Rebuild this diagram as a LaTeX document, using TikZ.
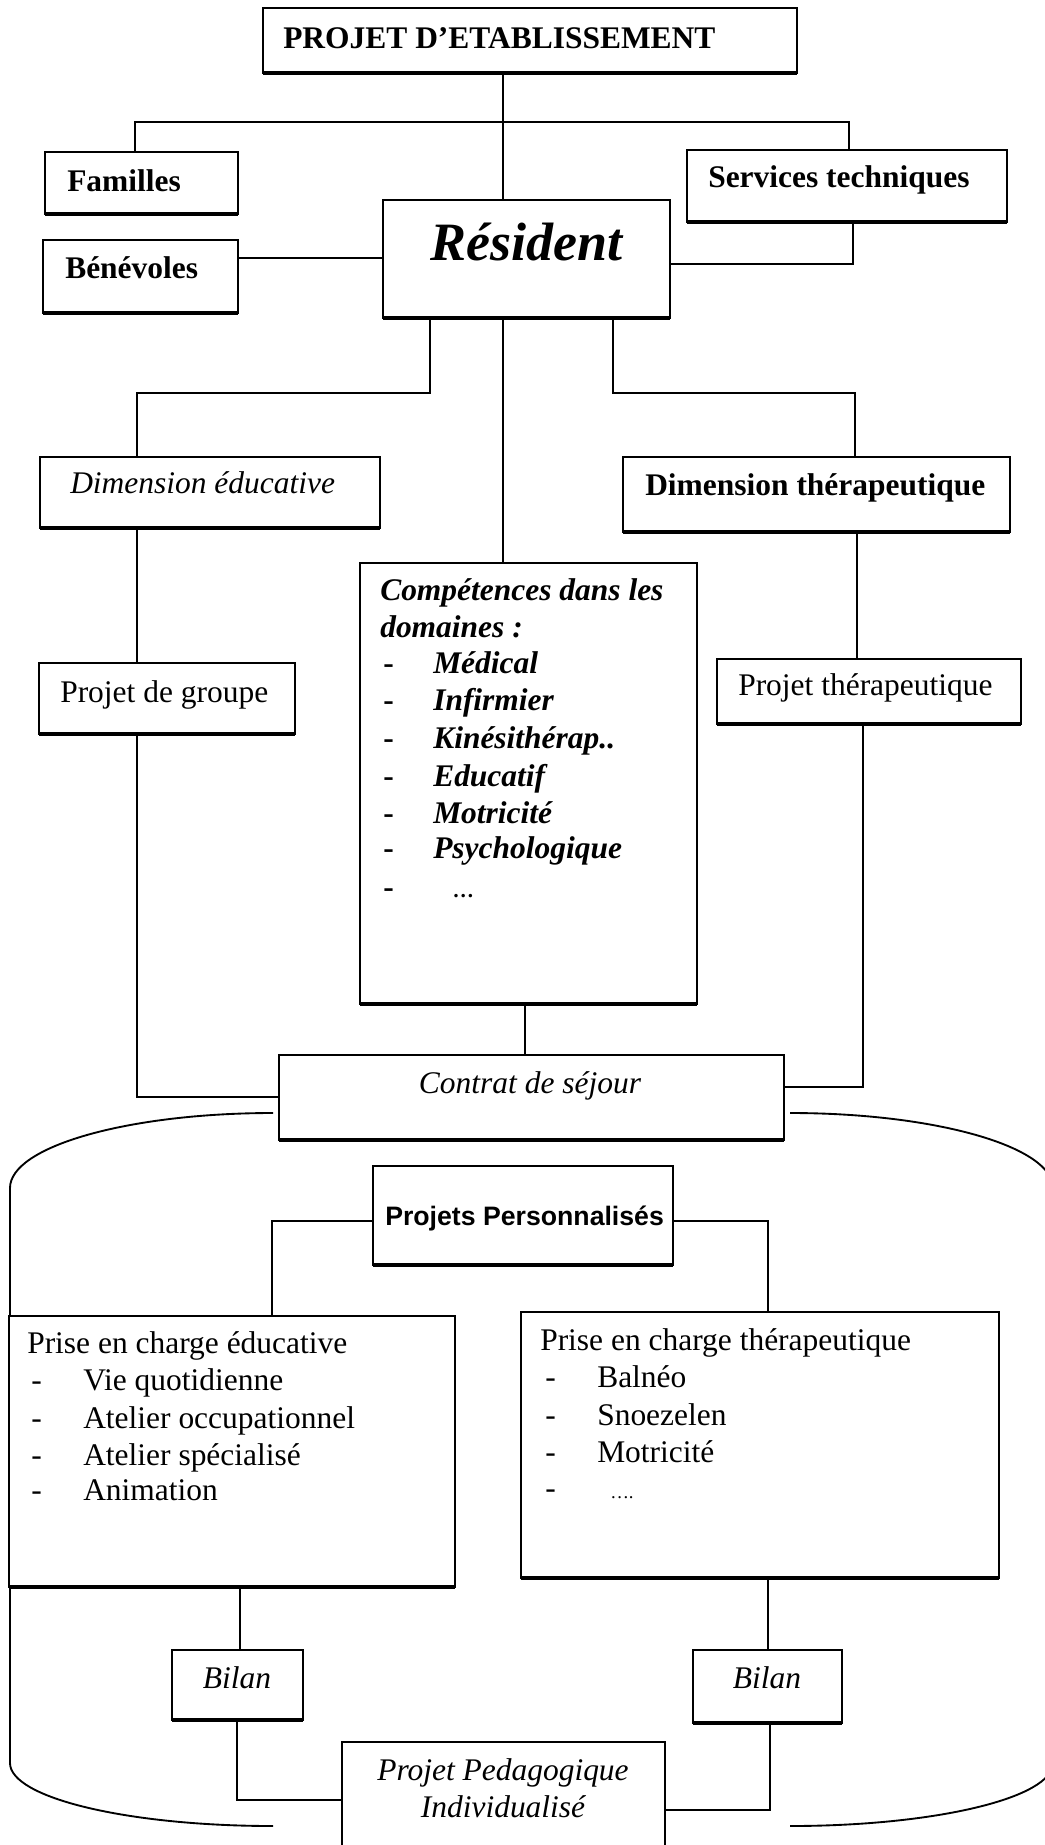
\documentclass[tikz,border=0pt]{standalone}
\usepackage{fontspec}
\setmainfont{Liberation Serif}
\newfontfamily\sansfam{Liberation Sans}
\tikzset{
  box/.style={draw, line width=1.3pt, inner sep=0pt, outer sep=0pt, fill=white},
  sz/.style 2 args={minimum width=#1*0.75pt, minimum height=#2*0.75pt},
  conn/.style={line width=1.1pt},
  frame/.style={line width=1.4pt},
  shadowline/.style={line width=2.4pt},
  txt/.style={anchor=base west, inner sep=0pt, font=\fontsize{23.6pt}{28pt}\selectfont},
  ctxt/.style={anchor=base, inner sep=0pt, font=\fontsize{23.6pt}{28pt}\selectfont},
}
\begin{document}
\begin{tikzpicture}[x=0.75pt,y=-0.75pt]
\useasboundingbox (0,0) rectangle (1045,1845);
\fill[white] (0,0) rectangle (1045,1845);
\clip (0,0) rectangle (1045,1845);

% large rounded frame
\draw[frame] (273,1113) .. controls (127.7,1113) and (10,1146.6) .. (10,1188)
  -- (10,1763) .. controls (10,1797.8) and (127.7,1826) .. (273,1826);
\draw[frame] (790,1826) .. controls (935.3,1826) and (1053,1797.8) .. (1053,1763)
  -- (1053,1188) .. controls (1053,1146.6) and (935.3,1113) .. (790,1113);

% boxes
\node[box, sz={534}{65}] (proj) at (530,40.5) {};
\node[box, sz={193}{62}] (fam) at (141.5,183) {};
\node[box, sz={320}{72}] (serv) at (847,186) {};
\node[box, sz={287}{118}] (res) at (526.5,259) {};
\node[box, sz={195}{73}] (ben) at (140.5,276.5) {};
\node[box, sz={340}{71}] (dedu) at (210,492.5) {};
\node[box, sz={387}{75}] (dther) at (816.5,494.5) {};
\node[box, sz={337}{441}] (comp) at (528.5,783.5) {};
\node[box, sz={256}{71}] (pgr) at (167,698.5) {};
\node[box, sz={304}{65}] (pth) at (869,691.5) {};
\node[box, sz={505}{85}] (contrat) at (531.5,1097.5) {};
\node[box, sz={300}{99}] (pp) at (523,1215.5) {};
\node[box, sz={446}{271}] (pedu) at (232,1451.5) {};
\node[box, sz={478}{266}] (pthe) at (760,1445) {};
\node[box, sz={131}{70}] (bil1) at (237.5,1685) {};
\node[box, sz={149}{73}] (bil2) at (767.5,1686.5) {};
\node[box, sz={323}{118}] (ppi) at (503.5,1801) {};

% heavier bottom edges
\foreach \n in {proj,fam,serv,res,ben,dedu,dther,comp,pgr,pth,contrat,pp,pedu,pthe,bil1,bil2}
  \draw[shadowline] (\n.south west) -- (\n.south east);

% junction points
\coordinate (jt) at (503,122);
\coordinate (j1) at (135,122);
\coordinate (j2) at (849,122);
\coordinate (jb) at (0,258);
\coordinate (js) at (853,264);
\coordinate (jl1) at (430,393);
\coordinate (jl2) at (137,393);
\coordinate (jr1) at (613,393);
\coordinate (jr2) at (855,393);
\coordinate (jr3) at (857,0);
\coordinate (jc1) at (137,1097);
\coordinate (jc2) at (863,1087);
\coordinate (jcc) at (525,0);
\coordinate (jp1) at (272,1221);
\coordinate (jp2) at (768,1221);
\coordinate (jb1) at (240,0);
\coordinate (jb2) at (237,1800);
\coordinate (jb3) at (770,1810);

% connectors
\draw[conn] (proj.south -| jt) -- (res.north -| jt);
\draw[conn] (fam.north -| j1) -- (j1) -- (j2) -- (serv.north -| j2);
\draw[conn] (ben.east |- jb) -- (res.west |- jb);
\draw[conn] (serv.south -| js) -- (js) -- (res.east |- js);
\draw[conn] (res.south -| jl1) -- (jl1) -- (jl2) -- (dedu.north -| jl2);
\draw[conn] (res.south -| jr1) -- (jr1) -- (jr2) -- (dther.north -| jr2);
\draw[conn] (res.south -| jt) -- (comp.north -| jt);
\draw[conn] (dedu.south -| jl2) -- (pgr.north -| jl2);
\draw[conn] (dther.south -| jr3) -- (pth.north -| jr3);
\draw[conn] (pgr.south -| jc1) -- (jc1) -- (contrat.west |- jc1);
\draw[conn] (pth.south -| jc2) -- (jc2) -- (contrat.east |- jc2);
\draw[conn] (comp.south -| jcc) -- (contrat.north -| jcc);
\draw[conn] (pp.west |- jp1) -- (jp1) -- (pedu.north -| jp1);
\draw[conn] (pp.east |- jp2) -- (jp2) -- (pthe.north -| jp2);
\draw[conn] (pedu.south -| jb1) -- (bil1.north -| jb1);
\draw[conn] (bil1.south -| jb2) -- (jb2) -- (ppi.west |- jb2);
\draw[conn] (pthe.south -| jp2) -- (bil2.north -| jp2);
\draw[conn] (bil2.south -| jb3) -- (jb3) -- (ppi.east |- jb3);

% texts
\node[txt, font=\fontsize{23.6pt}{28pt}\selectfont\bfseries] (tproj) at (283,48) {PROJET D’ETABLISSEMENT};
\node[txt, font=\fontsize{23.6pt}{28pt}\selectfont\bfseries] (tfam) at (67,191) {Familles};
\node[txt, font=\fontsize{23.6pt}{28pt}\selectfont\bfseries] (tserv) at (708,187) {Services techniques};
\node[txt, font=\fontsize{40.5pt}{46pt}\selectfont\bfseries\itshape] (tres) at (430,260) {Résident};
\node[txt, font=\fontsize{23.6pt}{28pt}\selectfont\bfseries] (tben) at (65,278) {Bénévoles};
\node[txt, font=\fontsize{23.6pt}{28pt}\selectfont\itshape] (tdedu) at (70,493) {Dimension éducative};
\node[txt, font=\fontsize{23.6pt}{28pt}\selectfont\bfseries] (tdther) at (645,495) {Dimension thérapeutique};
\node[txt] (tpgr) at (60,702) {Projet de groupe};
\node[txt] (tpth) at (738,695) {Projet thérapeutique};

\node[txt, font=\fontsize{23.6pt}{28pt}\selectfont\bfseries\itshape] (tcomp1) at (380,600) {Compétences dans les};
\node[txt, font=\fontsize{23.6pt}{28pt}\selectfont\bfseries\itshape] (tcomp2) at (380,637) {domaines :};
\foreach \yy [count=\i] in {673,710,748,786,823,858,897}
  \node[txt, font=\fontsize{23.6pt}{28pt}\selectfont\bfseries] (cdash\i) at (383,\yy) {-};
\foreach \yy/\tt [count=\i] in {673/Médical,710/Infirmier,748/Kinésithérap..,786/Educatif,823/Motricité,858/Psychologique}
  \node[txt, font=\fontsize{23.6pt}{28pt}\selectfont\bfseries\itshape] (citem\i) at (433,\yy) {\tt};
\node[txt, font=\fontsize{16pt}{20pt}\selectfont\bfseries\itshape] (cdots) at (453,897) {…};

\node[ctxt, font=\fontsize{23.6pt}{28pt}\selectfont\itshape] (tcontrat) at (530,1093) {Contrat de séjour};
\node[txt, font=\fontsize{20pt}{24pt}\selectfont\sansfam\bfseries] (tpp) at (385,1225) {Projets Personnalisés};

\node[txt] (tpedu) at (27,1353) {Prise en charge éducative};
\foreach \yy/\tt [count=\i] in {1390/Vie quotidienne,1428/Atelier occupationnel,1465/Atelier spécialisé,1500/Animation}{
  \node[txt] (edash\i) at (31,\yy) {-};
  \node[txt] (eitem\i) at (83,\yy) {\tt};
}
\node[txt] (tpthe) at (540,1350) {Prise en charge thérapeutique};
\foreach \yy/\tt [count=\i] in {1387/Balnéo,1425/Snoezelen,1462/Motricité}{
  \node[txt] (tdash\i) at (545,\yy) {-};
  \node[txt] (titem\i) at (597,\yy) {\tt};
}
\node[txt] (tdash4) at (545,1498) {-};
\node[txt, font=\fontsize{14pt}{18pt}\selectfont] (tdots) at (610,1498) {….};

\node[ctxt, font=\fontsize{23.6pt}{28pt}\selectfont\itshape] (tbil1) at (237,1688) {Bilan};
\node[ctxt, font=\fontsize{23.6pt}{28pt}\selectfont\itshape] (tbil2) at (767,1688) {Bilan};
\node[ctxt, font=\fontsize{23.6pt}{28pt}\selectfont\itshape] (tppi1) at (503,1780) {Projet Pedagogique};
\node[ctxt, font=\fontsize{23.6pt}{28pt}\selectfont\itshape] (tppi2) at (503,1817) {Individualisé};
\end{tikzpicture}
\end{document}
